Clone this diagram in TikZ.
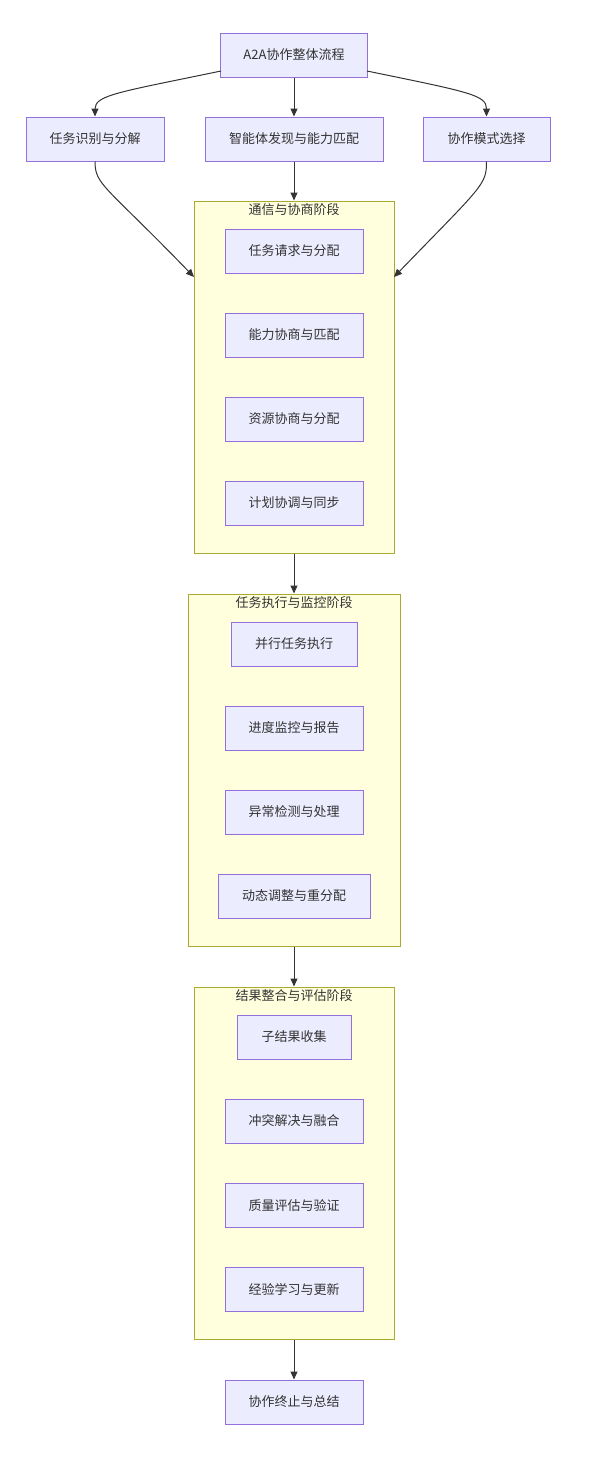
\documentclass[tikz,border=0pt]{standalone}
\usepackage{fontspec}
\newfontfamily\cjk{Noto Sans CJK SC}
\usetikzlibrary{arrows.meta}
\definecolor{nodefill}{HTML}{ECECFF}
\definecolor{nodeline}{HTML}{9370DB}
\definecolor{clfill}{HTML}{FFFFDE}
\definecolor{clline}{HTML}{AAAA33}
\definecolor{txt}{HTML}{333333}
\tikzset{
  box/.style={draw=nodeline, fill=nodefill, line width=1pt, inner sep=0pt,
    minimum height=44pt, text=txt, font=\cjk\fontsize{13}{15}\selectfont},
  cluster/.style={draw=clline, fill=clfill, line width=1pt, inner sep=0pt},
  cltitle/.style={text=txt, font=\cjk\fontsize{13}{15}\selectfont, inner sep=0pt},
  conn/.style={draw=txt, line width=1pt, -{Triangle[length=8pt,width=7pt]}}
}
\begin{document}
\begin{tikzpicture}[x=1pt,y=-1pt]
\useasboundingbox (0,0) rectangle (590,1460);
% clusters
\node[cluster, minimum width=200pt, minimum height=352pt] (c1) at (294,377) {};
\node[cltitle] (t1) at (294,210) {通信与协商阶段};
\node[cluster, minimum width=212pt, minimum height=352pt] (c2) at (294,770) {};
\node[cltitle] (t2) at (294,603) {任务执行与监控阶段};
\node[cluster, minimum width=200pt, minimum height=352pt] (c3) at (294,1163) {};
\node[cltitle] (t3) at (294,996) {结果整合与评估阶段};
% top nodes
\node[box, minimum width=147pt] (top) at (294,55) {A2A协作整体流程};
\node[box, minimum width=138pt] (n1) at (95,139) {任务识别与分解};
\node[box, minimum width=178pt] (n2) at (294,139) {智能体发现与能力匹配};
\node[box, minimum width=127pt] (n3) at (486.5,139) {协作模式选择};
% cluster 1
\node[box, minimum width=138pt] (a1) at (294,251) {任务请求与分配};
\node[box, minimum width=138pt] (a2) at (294,335) {能力协商与匹配};
\node[box, minimum width=138pt] (a3) at (294,419) {资源协商与分配};
\node[box, minimum width=138pt] (a4) at (294,503) {计划协调与同步};
% cluster 2
\node[box, minimum width=126pt] (b1) at (294,644) {并行任务执行};
\node[box, minimum width=138pt] (b2) at (294,728) {进度监控与报告};
\node[box, minimum width=138pt] (b3) at (294,812) {异常检测与处理};
\node[box, minimum width=152pt] (b4) at (294,896) {动态调整与重分配};
% cluster 3
\node[box, minimum width=114pt] (d1) at (294,1037) {子结果收集};
\node[box, minimum width=138pt] (d2) at (294,1121) {冲突解决与融合};
\node[box, minimum width=138pt] (d3) at (294,1205) {质量评估与验证};
\node[box, minimum width=138pt] (d4) at (294,1289) {经验学习与更新};
% end
\node[box, minimum width=138pt] (fin) at (294,1402) {协作终止与总结};
% connector points
\coordinate (topL) at (221,71);
\coordinate (topR) at (367,71);
\coordinate (c1L) at (194,277);
\coordinate (c1R) at (394,277);
% edges
\draw[conn] (topL) .. controls (120,92) and (95,95) .. (n1.north);
\draw[conn] (top.south) -- (n2.north);
\draw[conn] (topR) .. controls (469,92) and (486.5,95) .. (n3.north);
\draw[conn] (n1.south) .. controls (95,185) and (105,185) .. (c1L);
\draw[conn] (n2.south) -- (c1.north);
\draw[conn] (n3.south) .. controls (486.5,185) and (483,185) .. (c1R);
\draw[conn] (c1.south) -- (c2.north);
\draw[conn] (c2.south) -- (c3.north);
\draw[conn] (c3.south) -- (fin.north);
\end{tikzpicture}
\end{document}
